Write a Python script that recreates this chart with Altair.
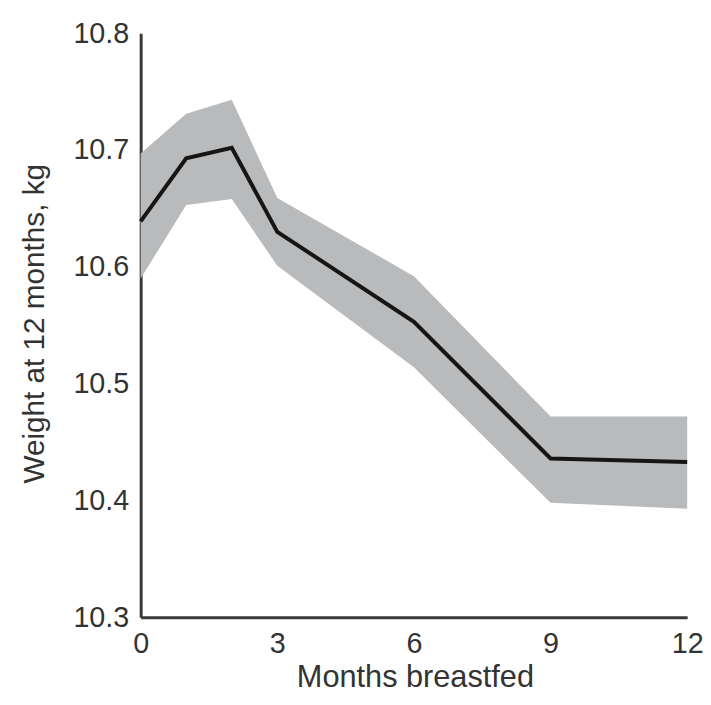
import altair as alt
import pandas as pd

months = [0, 1, 2, 3, 6, 9, 12]
weight = [10.639, 10.693, 10.702, 10.630, 10.553, 10.436, 10.433]
upper = [10.697, 10.731, 10.743, 10.659, 10.592, 10.472, 10.472]
lower = [10.590, 10.653, 10.658, 10.601, 10.514, 10.398, 10.393]
x_ticks = [0, 3, 6, 9, 12]
y_ticks = [10.3, 10.4, 10.5, 10.6, 10.7, 10.8]

df = pd.DataFrame({"months": months, "weight": weight, "upper": upper, "lower": lower})

FONT = "Liberation Sans"
TXT = "#333333"

x_enc = alt.X(
    "months:Q",
    scale=alt.Scale(domain=[0, 12], nice=False, zero=False),
    axis=alt.Axis(
        values=x_ticks, title="Months breastfed", grid=False, ticks=False, tickSize=0,
        labelPadding=13, labelFontSize=29, labelFont=FONT, labelColor=TXT,
        domainColor="#3a3a3a", domainWidth=3,
        titleFontSize=31, titleFont=FONT, titleColor=TXT, titleFontWeight="normal",
        titleBaseline="alphabetic", titleX=277, titleY=70, titleAnchor="middle",
        labelFlush=False,
    ),
)
y_scale = alt.Scale(domain=[10.3, 10.8], nice=False, zero=False)
y_axis = alt.Axis(
    values=y_ticks, format=".1f", title="Weight at 12 months, kg", grid=False,
    ticks=False, tickSize=0, labelPadding=12, labelFontSize=29, labelFont=FONT,
    labelColor=TXT, domainColor="#3a3a3a", domainWidth=3,
    titleFontSize=30, titleFont=FONT, titleColor=TXT, titleFontWeight="normal",
    titleAngle=-90, titleBaseline="alphabetic", titleX=-98, titleY=293,
    titleAlign="center", labelFlush=False,
)

band = alt.Chart(df).mark_area(color="#b9babc", opacity=1).encode(
    x=x_enc,
    y=alt.Y("upper:Q", scale=y_scale, axis=y_axis),
    y2="lower:Q",
)
line = alt.Chart(df).mark_line(color="#151515", strokeWidth=4, strokeJoin="miter").encode(
    x=alt.X("months:Q"),
    y=alt.Y("weight:Q"),
)

chart = (
    alt.layer(band, line)
    .properties(
        width=552, height=590,
        autosize=alt.AutoSizeParams(type="none"),
        padding={"left": 134, "top": 22, "right": 16, "bottom": 78},
        background="white",
    )
    .configure_view(stroke=None)
)

chart.save("out.html", embed_options={"renderer": "svg", "actions": False})
